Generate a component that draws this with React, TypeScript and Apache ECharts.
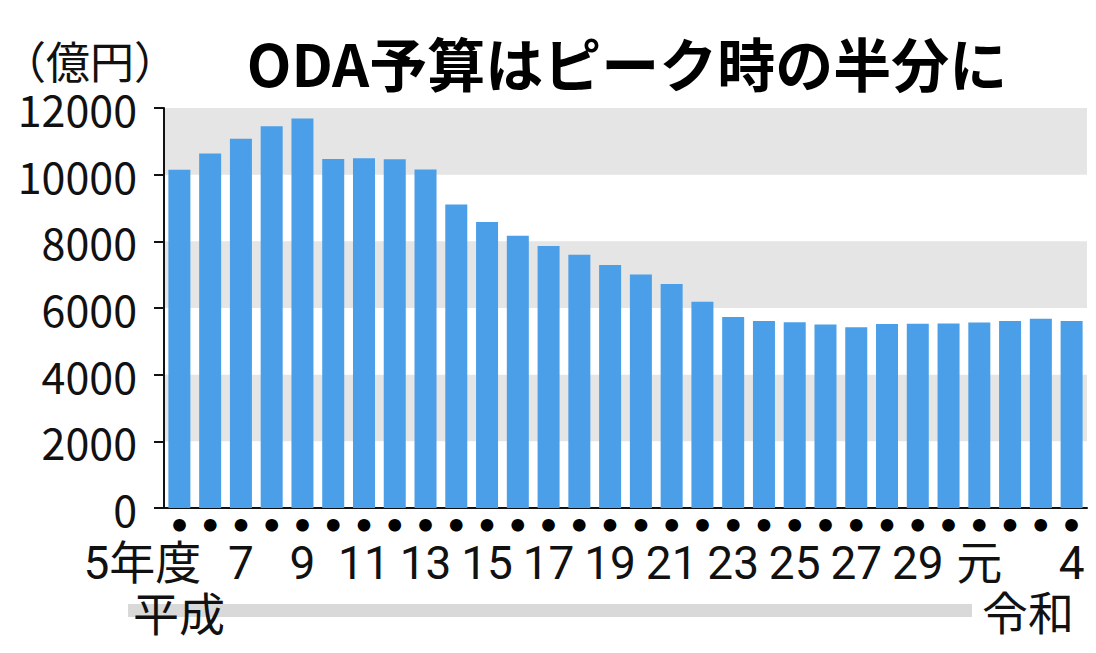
import React, { useEffect, useRef } from "react";
import * as echarts from "echarts";

const categories = [
  "5", "6", "7", "8", "9", "10", "11", "12", "13", "14", "15", "16", "17", "18", "19",
  "20", "21", "22", "23", "24", "25", "26", "27", "28", "29", "30", "元", "2", "3", "4",
];
const tickLabels = [
  "5年度", "", "7", "", "9", "", "11", "", "13", "", "15", "", "17", "", "19",
  "", "21", "", "23", "", "25", "", "27", "", "29", "", "元", "", "", "4",
];
const budget = [
  10144, 10633, 11075, 11452, 11687, 10473, 10489, 10466, 10152, 9106, 8578, 8169, 7862, 7597, 7293,
  7002, 6722, 6187, 5727, 5612, 5573, 5502, 5422, 5519, 5527, 5538, 5566, 5610, 5680, 5612,
];
const yTicks = [0, 2000, 4000, 6000, 8000, 10000, 12000];
const titleText = "ODA予算はピーク時の半分に";
const unitText = "（億円）";
const eraLeft = "平成";
const eraRight = "令和";
const dotMark = "●";

const FONT = "'Noto Sans CJK JP', 'Noto Sans', sans-serif";
const NUM_FONT = "Roboto, 'Noto Sans CJK JP', sans-serif";

export default function App() {
  const ref = useRef<HTMLDivElement>(null);
  useEffect(() => {
    if (!ref.current) return;
    const chart = echarts.init(ref.current, null, { renderer: "svg" });
    chart.setOption({
      animation: false,
      backgroundColor: "#ffffff",
      textStyle: { fontFamily: FONT },
      grid: { left: 164, right: 9, top: 108, bottom: 145, containLabel: false },
      xAxis: [
        {
          type: "category",
          data: categories,
          position: "bottom",
          axisLine: { show: true, lineStyle: { color: "#111", width: 2 } },
          axisTick: { show: false },
          axisLabel: {
            interval: 0,
            margin: 8,
            fontSize: 14,
            lineHeight: 16,
            color: "#000",
            fontFamily: FONT,
            formatter: () => dotMark,
          },
        },
        {
          type: "category",
          data: categories,
          position: "bottom",
          axisLine: { show: false },
          axisTick: { show: false },
          axisLabel: {
            interval: 0,
            margin: 32,
            formatter: (_v: string, i: number) => {
              const lab = tickLabels[i];
              if (!lab) return "";
              return i === 0 ? `{f|${lab}}` : `{n|${lab}}`;
            },
            rich: {
              n: { fontSize: 46, lineHeight: 46, color: "#111", fontFamily: NUM_FONT },
              f: { fontSize: 46, lineHeight: 46, color: "#111", fontFamily: NUM_FONT, padding: [0, 74, 0, 0] },
            },
          },
        },
      ],
      yAxis: {
        type: "value",
        min: yTicks[0],
        max: yTicks[yTicks.length - 1],
        interval: 2000,
        axisLine: { show: true, lineStyle: { color: "#111", width: 2 } },
        axisTick: { show: true, length: 10, lineStyle: { color: "#111", width: 2 } },
        axisLabel: {
          fontSize: 43,
          color: "#111",
          margin: 27,
          fontFamily: FONT,
          formatter: (v: number) => String(v),
        },
        splitLine: { show: false },
        splitArea: { show: true, areaStyle: { color: ["rgba(0,0,0,0)", "#e5e5e5"] } },
      },
      series: [
        {
          type: "bar",
          xAxisIndex: 0,
          data: budget,
          barWidth: 22,
          itemStyle: { color: "#4a9fe8" },
        },
      ],
      graphic: [
        {
          type: "text",
          x: 627,
          y: 62,
          style: {
            text: titleText,
            fontSize: 58,
            fontWeight: "bold",
            fill: "#000",
            fontFamily: FONT,
            align: "center",
            verticalAlign: "middle",
          },
        },
        {
          type: "text",
          x: 2,
          y: 60,
          style: {
            text: unitText,
            fontSize: 44,
            fill: "#111",
            fontFamily: FONT,
            align: "left",
            verticalAlign: "middle",
          },
        },
        {
          type: "rect",
          shape: { x: 128, y: 604, width: 844, height: 13 },
          style: { fill: "#d9d9d9" },
          z: 1,
        },
        {
          type: "text",
          x: 133,
          y: 611,
          z: 2,
          style: {
            text: eraLeft,
            fontSize: 46,
            fill: "#111",
            fontFamily: FONT,
            align: "left",
            verticalAlign: "middle",
          },
        },
        {
          type: "text",
          x: 982,
          y: 610,
          z: 2,
          style: {
            text: eraRight,
            fontSize: 46,
            fill: "#111",
            fontFamily: FONT,
            align: "left",
            verticalAlign: "middle",
          },
        },
      ],
    });
    return () => chart.dispose();
  }, []);
  return (
    <div
      ref={ref}
      style={{ position: "fixed", left: 0, top: 0, width: 1096, height: 653, background: "#fff" }}
    />
  );
}
